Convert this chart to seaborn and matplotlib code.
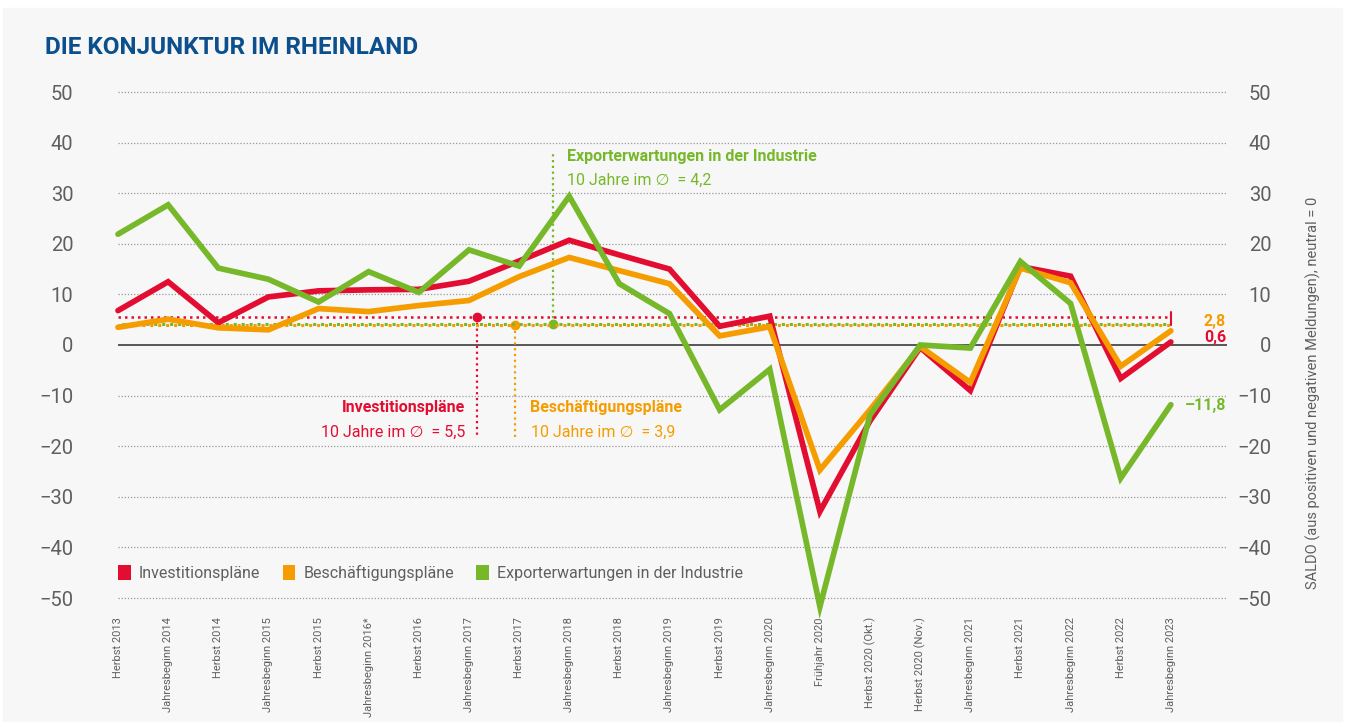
import numpy as np
import pandas as pd
import matplotlib
matplotlib.use('Agg')
import matplotlib.pyplot as plt
import seaborn as sns
from matplotlib import font_manager
from matplotlib.patches import Patch, Rectangle

# Daten
perioden = ['Herbst 2013', 'Jahresbeginn 2014', 'Herbst 2014', 'Jahresbeginn 2015',
            'Herbst 2015', 'Jahresbeginn 2016*', 'Herbst 2016', 'Jahresbeginn 2017',
            'Herbst 2017', 'Jahresbeginn 2018', 'Herbst 2018', 'Jahresbeginn 2019',
            'Herbst 2019', 'Jahresbeginn 2020', 'Frühjahr 2020', 'Herbst 2020 (Okt.)',
            'Herbst 2020 (Nov.)', 'Jahresbeginn 2021', 'Herbst 2021', 'Jahresbeginn 2022',
            'Herbst 2022', 'Jahresbeginn 2023']
investition = [6.8, 12.5, 4.4, 9.5, 10.7, 10.9, 11.0, 12.6, 16.6, 20.7, 17.8, 15.0,
               3.7, 5.7, -32.9, -15.0, -0.5, -9.0, 15.5, 13.6, -6.6, 0.6]
beschaeftigung = [3.5, 5.1, 3.4, 3.0, 7.2, 6.6, 7.8, 8.8, 13.5, 17.3, 14.7, 12.1,
                  1.8, 3.6, -24.7, -12.8, -0.3, -7.4, 15.2, 12.3, -4.2, 2.8]
export = [21.9, 27.7, 15.2, 13.0, 8.5, 14.5, 10.4, 18.8, 15.6, 29.4, 12.1, 6.2,
          -12.8, -4.8, -51.7, -13.8, 0.0, -0.6, 16.5, 8.2, -26.3, -11.8]
schnitt = {'Investitionspläne': 5.5, 'Beschäftigungspläne': 3.9,
           'Exporterwartungen in der Industrie': 4.2}

rot = '#e30d31'
orange = '#f59d00'
gruen = '#76b82a'
grau = '#5f5f5f'
farben = {'Investitionspläne': rot, 'Beschäftigungspläne': orange,
          'Exporterwartungen in der Industrie': gruen}

df = pd.DataFrame({'pos': list(range(len(perioden))) * 3,
                   'wert': investition + beschaeftigung + export,
                   'reihe': ['Investitionspläne'] * 22 + ['Beschäftigungspläne'] * 22
                            + ['Exporterwartungen in der Industrie'] * 22})

sns.set_theme(style='white')
avail = {f.name for f in font_manager.fontManager.ttflist}
fam = 'Liberation Sans Narrow' if 'Liberation Sans Narrow' in avail else 'Roboto'
plt.rcParams['font.family'] = [fam, 'DejaVu Sans']

fig = plt.figure(figsize=(13.49, 7.22), dpi=100, facecolor='white')
fig.patches.append(Rectangle((3 / 1349, 0), 1339 / 1349, 1 - 8 / 722,
                             transform=fig.transFigure, color='#f7f7f7', zorder=-10))
W, H = 1349, 722
# y: 0 bei 345px, 5.06 px pro Einheit
ytop, ybot = 345 - 52 * 5.06, 345 + 52 * 5.06
ax = fig.add_axes([118 / W, 1 - ybot / H, (1227 - 118) / W, (ybot - ytop) / H])
ax.set_facecolor('none')

sns.lineplot(data=df, x='pos', y='wert', hue='reihe', palette=farben, sort=False,
             linewidth=4.1, legend=False, ax=ax, zorder=5)
for l in ax.lines:
    l.set_clip_on(False)
    l.set_solid_joinstyle('miter')

ax.set_xlim(0, 22.12)
ax.set_ylim(-52, 52)
ax.set_yticks(range(-50, 51, 10))
for v in range(-50, 51, 10):
    if v == 0:
        ax.axhline(0, color='#4a4a4a', lw=1.3, zorder=2)
    else:
        ax.axhline(v, color='#9a9a9a', lw=0.9, ls=(0, (1, 1.5)), zorder=1)

# 10-Jahres-Durchschnitte
ax.plot([0, 21], [5.5, 5.5], color=rot, lw=1.8, ls=(0, (1, 1.6)), zorder=3)
ax.plot([0, 21], [3.9, 3.9], color=orange, lw=2.2, ls=(0, (1, 1.6)), zorder=3)
ax.plot([0, 21], [4.2, 4.2], color=gruen, lw=2.2, ls=(1.3, (1, 1.6)), zorder=3)
ax.plot([21, 21], [4.0, 6.6], color=rot, lw=1.5, zorder=3)

ax.plot([7.16, 7.16], [5.5, -18.4], color=rot, lw=1.6, ls=(0, (1, 1.6)))
ax.plot([7.92, 7.92], [3.9, -18.4], color=orange, lw=1.6, ls=(0, (1, 1.6)))
ax.plot([8.68, 8.68], [4.2, 38.2], color=gruen, lw=1.6, ls=(0, (1, 1.6)))
ax.plot([7.16], [5.5], 'o', color=rot, ms=6)
ax.plot([7.92], [3.9], 'o', color=orange, ms=6)
ax.plot([8.68], [4.2], 'o', color=gruen, ms=6)

fs = 11.5
ax.text(6.92, -12.4, 'Investitionspläne', color=rot, fontsize=fs, fontweight='bold',
        ha='right', va='center')
ax.text(6.92, -17.2, '10 Jahre im ∅  = 5,5', color=rot, fontsize=fs, ha='right', va='center')
ax.text(8.22, -12.4, 'Beschäftigungspläne', color=orange, fontsize=fs, fontweight='bold',
        ha='left', va='center')
ax.text(8.24, -17.2, '10 Jahre im ∅  = 3,9', color=orange, fontsize=fs, ha='left', va='center')
ax.text(8.95, 37.2, 'Exporterwartungen in der Industrie', color=gruen, fontsize=fs,
        fontweight='bold', ha='left', va='center')
ax.text(8.95, 32.6, '10 Jahre im ∅  = 4,2', color=gruen, fontsize=fs, ha='left', va='center')

# Endwerte
ax.text(22.1, 4.6, '2,8', color=orange, fontsize=fs, fontweight='bold', ha='right', va='center')
ax.text(22.1, 1.4, '0,6', color=rot, fontsize=fs, fontweight='bold', ha='right', va='center')
ax.text(22.1, -11.9, '–11,8', color=gruen, fontsize=fs, fontweight='bold', ha='right', va='center')

# Achsen
ax.set_xticks(range(len(perioden)))
ax.set_xticklabels(perioden, rotation=90, fontsize=8, color=grau)
ax.tick_params(axis='x', length=0, pad=6.5)
ax.tick_params(axis='y', length=0, pad=32, labelsize=14.5, labelcolor=grau,
               labelleft=True, labelright=True)
for t in ax.yaxis.get_major_ticks():
    t.label2.set_horizontalalignment('right')
ax.set_xlabel('')
ax.set_ylabel('')
for s in ax.spines.values():
    s.set_visible(False)

fig.text(1313 / W, 1 - 393 / H, 'SALDO (aus positiven und negativen Meldungen), neutral = 0',
         rotation=90, ha='center', va='center', fontsize=10.5, color=grau)
fig.text(45 / W, 1 - 48 / H, 'DIE KONJUNKTUR IM RHEINLAND', fontsize=17.5,
         fontweight='bold', color='#0b4f8c', ha='left', va='center')

handles = [Patch(facecolor=c, edgecolor='none', label=k) for k, c in farben.items()]
leg = ax.legend(handles=handles, loc='center left', bbox_to_anchor=(0, (ybot - 573) / (ybot - ytop)),
                ncol=3, frameon=False, borderaxespad=0, borderpad=0, handlelength=0.8,
                handleheight=1.1, handletextpad=0.5, columnspacing=1.4, fontsize=11.5)
for t in leg.get_texts():
    t.set_color(grau)

fig.savefig('out.png', dpi=100, facecolor=fig.get_facecolor())
